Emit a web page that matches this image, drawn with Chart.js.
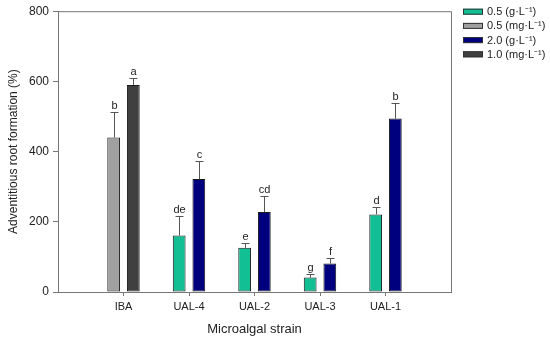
<!DOCTYPE html>
<html>
<head>
<meta charset="utf-8">
<script src="https://cdn.jsdelivr.net/npm/chart.js@4.4.0/dist/chart.umd.min.js"></script>
<style>
  html, body { margin: 0; padding: 0; background: #fff; }
</style>
</head>
<body>
<canvas id="myChart" width="550" height="343"></canvas>
<script>
// categories and values
const strains = ['IBA', 'UAL-4', 'UAL-2', 'UAL-3', 'UAL-1'];

const green05 = [null, 161, 126, 41, 221];   // 0.5 (g·L-1)
const gray05  = [440, null, null, null, null]; // 0.5 (mg·L-1)
const navy20  = [null, 322, 228, 81, 494];   // 2.0 (g·L-1)
const dark10  = [590, null, null, null, null]; // 1.0 (mg·L-1)

// upper error bars
const green05Err = [null, 55, 15, 9, 20];
const gray05Err  = [73, null, null, null, null];
const navy20Err  = [null, 51, 46, 15, 45];
const dark10Err  = [21, null, null, null, null];

// significance letters
const green05Letters = [null, 'de', 'e', 'g', 'd'];
const gray05Letters  = ['b', null, null, null, null];
const navy20Letters  = [null, 'c', 'cd', 'f', 'b'];
const dark10Letters  = ['a', null, null, null, null];

const FONT = "'Liberation Sans', Arial, sans-serif";

// pad with an empty slot on each side so the groups sit like the original
const pad = arr => [null, ...arr, null];

const data = {
  labels: ['', ...strains, ''],
  datasets: [
    { label: '0.5 (g·L⁻¹)', data: pad(green05), err: pad(green05Err), letters: pad(green05Letters), backgroundColor: '#12BE93' },
    { label: '0.5 (mg·L⁻¹)', data: pad(gray05), err: pad(gray05Err), letters: pad(gray05Letters), backgroundColor: '#A0A0A0' },
    { label: '2.0 (g·L⁻¹)', data: pad(navy20), err: pad(navy20Err), letters: pad(navy20Letters), backgroundColor: '#00007F' },
    { label: '1.0 (mg·L⁻¹)', data: pad(dark10), err: pad(dark10Err), letters: pad(dark10Letters), backgroundColor: '#404040' }
  ].map(ds => Object.assign(ds, {
    borderColor: '#1a1a1a',
    borderWidth: 1,
    borderSkipped: false,
    skipNull: true,
    categoryPercentage: 0.6,
    barPercentage: 0.65
  }))
};

// frame, error bars, letters and legend
const extras = {
  id: 'extras',
  afterDatasetsDraw(chart) {
    const ctx = chart.ctx;
    const yScale = chart.scales.y;
    const area = chart.chartArea;
    ctx.save();
    ctx.strokeStyle = '#777';
    ctx.lineWidth = 1;
    ctx.beginPath();
    ctx.moveTo(area.left, area.top + 0.5);
    ctx.lineTo(area.right + 0.5, area.top + 0.5);
    ctx.lineTo(area.right + 0.5, area.bottom);
    ctx.stroke();

    chart.data.datasets.forEach((ds, di) => {
      const meta = chart.getDatasetMeta(di);
      meta.data.forEach((bar, i) => {
        const v = ds.data[i];
        if (v === null || v === undefined) return;
        const x = Math.round(bar.x) + 0.5;
        const yTop = yScale.getPixelForValue(v);
        const yErr = Math.round(yScale.getPixelForValue(v + ds.err[i])) + 0.5;
        ctx.strokeStyle = '#555';
        ctx.beginPath();
        ctx.moveTo(x, yTop);
        ctx.lineTo(x, yErr);
        ctx.moveTo(x - 4, yErr);
        ctx.lineTo(x + 4, yErr);
        ctx.stroke();
        ctx.fillStyle = '#222';
        ctx.font = '11px ' + FONT;
        ctx.textAlign = 'center';
        ctx.textBaseline = 'bottom';
        ctx.fillText(ds.letters[i], x, yErr - 1.5);
      });
    });

    // legend
    const rowY = [11.7, 25.9, 40.1, 54.3];
    chart.data.datasets.forEach((ds, di) => {
      const y = rowY[di];
      ctx.fillStyle = ds.backgroundColor;
      ctx.fillRect(463, y - 3, 20, 6);
      ctx.strokeStyle = '#333';
      ctx.strokeRect(463.5, y - 2.5, 19, 5);
      ctx.fillStyle = '#222';
      ctx.font = '11px ' + FONT;
      ctx.textAlign = 'left';
      ctx.textBaseline = 'middle';
      ctx.fillText(ds.label, 487, y + 0.5);
    });
    ctx.restore();
  }
};

const config = {
  type: 'bar',
  data: data,
  options: {
    responsive: false,
    animation: false,
    devicePixelRatio: 1,
    layout: { padding: { top: 9, right: 99, left: 0, bottom: 0 } },
    plugins: {
      legend: { display: false },
      tooltip: { enabled: false }
    },
    scales: {
      x: {
        type: 'category',
        offset: false,
        grid: {
          offset: false,
          drawOnChartArea: false,
          drawTicks: true,
          tickLength: 4,
          color: c => (c.index === 0 || c.index === 6) ? 'rgba(0,0,0,0)' : '#777'
        },
        border: { display: true, color: '#777' },
        ticks: { autoSkip: false, maxRotation: 0, padding: 4, color: '#222', font: { family: FONT, size: 11 } },
        title: { display: true, text: 'Microalgal strain', color: '#222', font: { family: FONT, size: 13 }, padding: { top: 6, bottom: 6 } },
        afterFit: s => { s.height = 51; }
      },
      y: {
        min: 0,
        max: 800,
        ticks: { stepSize: 200, padding: 4, color: '#222', font: { family: FONT, size: 12 } },
        grid: { drawOnChartArea: false, drawTicks: true, tickLength: 5, color: '#777' },
        border: { display: true, color: '#777' },
        title: { display: true, text: 'Adventitious root formation (%)', color: '#222', font: { family: FONT, size: 12 }, padding: { top: 6, bottom: 0 } },
        afterFit: s => { s.width = 58; }
      }
    }
  },
  plugins: [extras]
};

var myChart = new Chart(document.getElementById('myChart'), config);
</script>
</body>
</html>
